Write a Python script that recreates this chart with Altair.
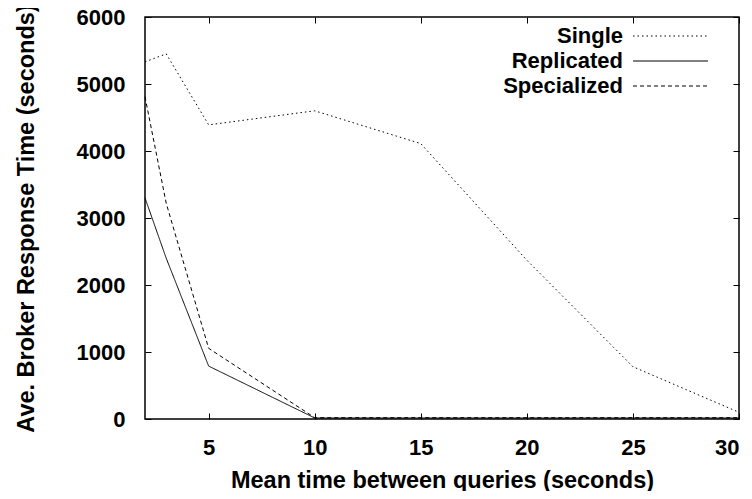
import altair as alt
import pandas as pd

# ---- data ----
x_vals = [2, 3, 5, 10, 15, 20, 25, 30]
single = [5330, 5450, 4390, 4600, 4110, 2370, 780, 100]
replicated = [3300, 2400, 790, 15, 15, 15, 15, 15]
specialized = [4810, 3220, 1055, 20, 20, 20, 20, 20]
series_names = ["Single", "Replicated", "Specialized"]
dashes = [[1.5, 3], [1, 0], [4, 3]]
x_ticks = [5, 10, 15, 20, 25, 30]
y_ticks = [0, 1000, 2000, 3000, 4000, 5000, 6000]

rows = []
for name, vals in zip(series_names, [single, replicated, specialized]):
    for xv, yv in zip(x_vals, vals):
        rows.append({"series": name, "x": xv, "y": yv})
df = pd.DataFrame(rows)

FONT = "Liberation Sans"
xscale = alt.Scale(domain=[2, 30], nice=False, zero=False)
yscale = alt.Scale(domain=[0, 6000], nice=False)
TICK = dict(ticks=True, tickSize=6, tickWidth=1, tickColor="black", offset=-6)

lines = alt.Chart(df).mark_line(color="black", strokeWidth=1).encode(
    x=alt.X("x:Q", scale=xscale, title="Mean time between queries (seconds)",
            axis=alt.Axis(orient="bottom", values=x_ticks, format="d", labelPadding=18,
                          labelAlign={"condition": {"test": "datum.value == 30", "value": "right"},
                                      "value": "center"},
                          titleY=74, titleBaseline="alphabetic", **TICK)),
    y=alt.Y("y:Q", scale=yscale, title="Ave. Broker Response Time (seconds)",
            axis=alt.Axis(orient="left", values=y_ticks, format="d", labelPadding=20,
                          titleAngle=270, titleX=-118, titleY=201,
                          titleBaseline="alphabetic", titleAlign="center", **TICK)),
    strokeDash=alt.StrokeDash("series:N", scale=alt.Scale(domain=series_names, range=dashes), legend=None),
    detail="series:N",
)

# mirrored inward ticks on top and right
mirror = alt.Chart(df).mark_point(opacity=0).encode(
    x=alt.X("x:Q", scale=xscale, title=None,
            axis=alt.Axis(orient="top", values=x_ticks, labels=False, **TICK)),
    y=alt.Y("y:Q", scale=yscale, title=None,
            axis=alt.Axis(orient="right", values=y_ticks, labels=False, **TICK)),
)

# legend (labels left, line samples right, top-right inside)
legend_layers = []
for i, (name, d) in enumerate(zip(series_names, dashes)):
    ld = pd.DataFrame({"series": [name]})
    yy = 19 + 25 * i
    legend_layers.append(
        alt.Chart(ld).mark_text(align="right", baseline="middle", font=FONT,
                                fontWeight="bold", fontSize=22, color="black").encode(
            text="series:N", x=alt.value(478), y=alt.value(yy))
    )
    legend_layers.append(
        alt.Chart(ld).mark_rule(color="black", strokeWidth=1, strokeDash=d).encode(
            x=alt.value(488), x2=alt.value(563), y=alt.value(yy))
    )

chart = alt.layer(lines, mirror, *legend_layers).resolve_axis(
    x="independent", y="independent"
).properties(
    width=594, height=402,
    autosize=alt.AutoSizeParams(type="none"),
    padding={"left": 137, "top": 9, "right": 5, "bottom": 72},
    background="white",
).configure_view(stroke="black", strokeWidth=1.5).configure_axis(
    domain=False, grid=False,
    labelFont=FONT, labelFontWeight="bold", labelFontSize=22, labelColor="black",
    titleFont=FONT, titleFontWeight="bold", titleFontSize=23.5, titleColor="black",
)

chart.save("out.html", embed_options={"renderer": "svg", "actions": False})
